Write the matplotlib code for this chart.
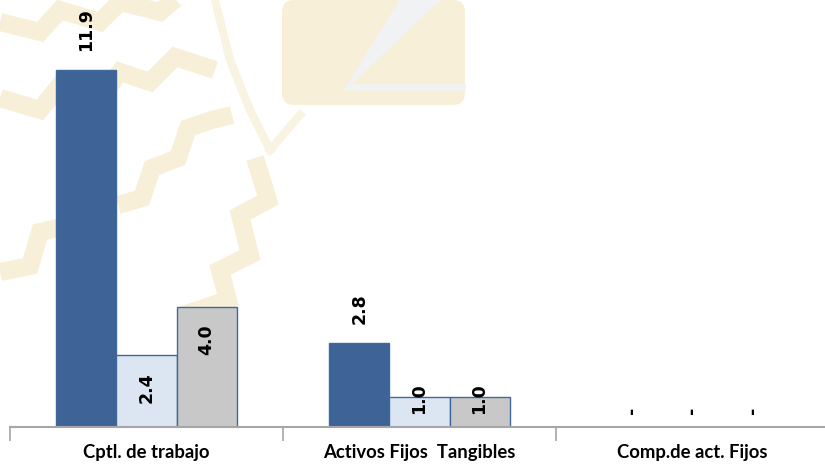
#!/usr/bin/env python

import matplotlib.pyplot as plt
import numpy as np
from matplotlib.patches import FancyBboxPatch

categories = ["Cptl. de trabajo", "Activos Fijos  Tangibles", "Comp.de act. Fijos"]
serie_a = [11.9, 2.8, 0.0]
serie_b = [2.4, 1.0, 0.0]
serie_c = [4.0, 1.0, 0.0]


def watermark(fig):
    # faint logo behind the chart (pixel coords, y down)
    bg = fig.add_axes((0, 0, 1, 1), zorder=0)
    bg.set_xlim(0, 825)
    bg.set_ylim(469, 0)
    bg.axis("off")
    beige = "#F7EFD8"
    zigs = [
        [(0, 22), (40, 32), (60, 10), (100, 22), (120, 2), (160, 12), (180, -5)],
        [(0, 98), (40, 110), (60, 85), (100, 98), (120, 72), (150, 82), (175, 57), (215, 70)],
        [(118, 205), (142, 198), (152, 168), (178, 158), (188, 128), (212, 120), (232, 115)],
        [(255, 158), (268, 200), (240, 215), (250, 255), (220, 270), (228, 300), (192, 312), (200, 335)],
        [(0, 272), (30, 266), (40, 232), (58, 228)],
    ]
    for z in zigs:
        xs, ys = zip(*z)
        bg.plot(xs, ys, color=beige, lw=13, solid_joinstyle="miter", solid_capstyle="butt")
    bg.plot([215, 230, 250, 270], [0, 60, 110, 150], color="#F9F3E2", lw=6)
    bg.plot([270, 300], [150, 115], color="#F9F3E2", lw=6)
    bg.add_patch(FancyBboxPatch((282, 0), 183, 105, boxstyle="round,pad=0,rounding_size=12",
                                fc=beige, ec="none"))
    bg.fill([400, 440, 350, 465, 465, 345], [0, 0, 85, 85, 90, 90], color="#F1F2F3")


def main():
    fig = plt.figure(figsize=(8.25, 4.69), dpi=100)
    watermark(fig)
    ax = fig.add_axes((10 / 825, 42 / 469, 819 / 825, 427 / 469), zorder=1)
    ax.patch.set_alpha(0)

    x = np.arange(len(categories))
    w = 0.22
    fills = ["#3E6497", "#DCE6F2", "#C8C8C8"]
    edge = "#41689B"
    fs = 12.5

    for i, vals in enumerate([serie_a, serie_b, serie_c]):
        pos = x + (i - 1) * w
        ax.bar(pos, vals, width=w, color=fills[i], edgecolor=edge, linewidth=1.0)
        for p, v in zip(pos, vals):
            if v == 0:
                ax.text(p, 0.57, "-", rotation=90, ha="center", va="center",
                        fontsize=fs, fontweight="bold")
            elif i == 0:
                ax.text(p, v + 0.62, f"{v:.1f}", rotation=90, ha="center",
                        va="bottom", fontsize=fs, fontweight="bold")
            else:
                ax.text(p, max(v - 0.57, 1.45), f"{v:.1f}", rotation=90,
                        ha="center", va="top", fontsize=fs, fontweight="bold")

    ax.set_xlim(-0.5, len(categories) - 0.5)
    ax.set_ylim(0, 14.23)

    for s in ["top", "right", "left"]:
        ax.spines[s].set_visible(False)
    ax.spines["bottom"].set_color("#A6A6A6")
    ax.spines["bottom"].set_linewidth(1.5)
    ax.set_yticks([])

    ax.set_xticks(np.arange(len(categories) + 1) - 0.5)
    ax.set_xticklabels([])
    ax.tick_params(axis="x", length=10, width=1.2, color="#A6A6A6")
    for xi, c in zip(x, categories):
        ax.text(xi, -0.85, c, ha="center", va="center", fontsize=13.3,
                fontweight="bold", family="Lato")

    fig.savefig("out.png", dpi=100)


if __name__ == "__main__":
    main()
